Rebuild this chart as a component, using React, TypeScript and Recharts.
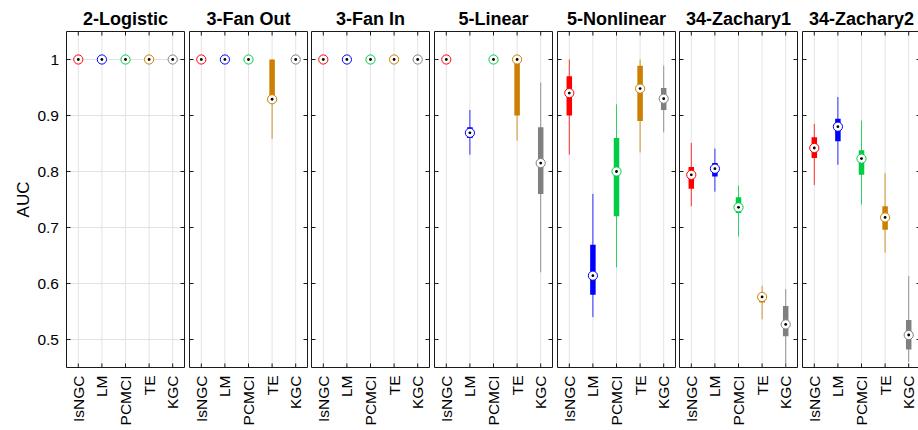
import {
  ComposedChart,
  Scatter,
  XAxis,
  YAxis,
  CartesianGrid,
  ReferenceArea,
  ReferenceLine,
} from "recharts";

const categories = ["IsNGC", "LM", "PCMCI", "TE", "KGC"];
const panelTitles = [
  "2-Logistic",
  "3-Fan Out",
  "3-Fan In",
  "5-Linear",
  "5-Nonlinear",
  "34-Zachary1",
  "34-Zachary2",
];
const yTicks = [0.5, 0.6, 0.7, 0.8, 0.9, 1];

// one row per panel, one value per method (IsNGC, LM, PCMCI, TE, KGC)
const medians = [
  [1, 1, 1, 1, 1],
  [1, 1, 1, 0.929, 1],
  [1, 1, 1, 1, 1],
  [1, 0.869, 1, 1, 0.815],
  [0.94, 0.614, 0.8, 0.948, 0.93],
  [0.794, 0.805, 0.736, 0.576, 0.527],
  [0.842, 0.88, 0.823, 0.718, 0.508],
];
const q1 = [
  [1, 1, 1, 1, 1],
  [1, 1, 1, 0.929, 1],
  [1, 1, 1, 1, 1],
  [1, 0.86, 1, 0.9, 0.76],
  [0.9, 0.58, 0.72, 0.89, 0.91],
  [0.769, 0.791, 0.726, 0.566, 0.506],
  [0.824, 0.854, 0.794, 0.696, 0.482],
];
const q3 = [
  [1, 1, 1, 1, 1],
  [1, 1, 1, 1, 1],
  [1, 1, 1, 1, 1],
  [1, 0.879, 1, 1, 0.879],
  [0.97, 0.669, 0.86, 0.989, 0.949],
  [0.808, 0.815, 0.754, 0.583, 0.56],
  [0.861, 0.894, 0.838, 0.738, 0.535],
];
const whiskerLow = [
  [1, 1, 1, 1, 1],
  [1, 1, 1, 0.858, 1],
  [1, 1, 1, 1, 1],
  [1, 0.83, 1, 0.855, 0.62],
  [0.83, 0.54, 0.629, 0.834, 0.87],
  [0.738, 0.764, 0.684, 0.536, 0.44],
  [0.776, 0.812, 0.741, 0.655, 0.46],
];
const whiskerHigh = [
  [1, 1, 1, 1, 1],
  [1, 1, 1, 1, 1],
  [1, 1, 1, 1, 1],
  [1, 0.91, 1, 1, 0.959],
  [1, 0.76, 0.92, 1, 0.989],
  [0.851, 0.841, 0.775, 0.596, 0.59],
  [0.885, 0.933, 0.891, 0.797, 0.613],
];

const COLORS = ["#ff0000", "#0000ff", "#00cc44", "#cc7f00", "#808080"];
const FONT = '"Liberation Sans", Arial, Helvetica, sans-serif';
const AXIS = "#1a1a1a";
const PLOT_W = 118;
const FIRST_LEFT = 66;
const panelOffsets = [0, 123, 245, 368, 491, 613, 736];
const X_DOMAIN: [number, number] = [0.5, 5.5];
const Y_DOMAIN: [number, number] = [0.45, 1.05];
// inward tick length (about 4px) in data units
const TICK_DX = 0.17;
const TICK_DY = 0.0072;

const xTicks = categories.map((_, i) => i + 1);
const fmtY = (v: number) => (v === 1 ? "1" : v.toFixed(1));
const Empty = () => <g />;

function CatTick({ x, y, payload }: any) {
  return (
    <text
      x={x}
      y={y}
      transform={`rotate(-90 ${x} ${y})`}
      textAnchor="end"
      dy="0.36em"
      fontSize={15.5}
      fontFamily={FONT}
      fill="#000"
    >
      {categories[payload.value - 1]}
    </text>
  );
}

function YTick({ x, y, payload }: any) {
  return (
    <text x={x} y={y} textAnchor="end" dy="0.36em" fontSize={15.5} fontFamily={FONT} fill="#000">
      {fmtY(payload.value)}
    </text>
  );
}

function MedianMark({ cx, cy, payload }: any) {
  return (
    <g>
      <circle cx={cx} cy={cy} r={4.6} fill="#fff" stroke={payload.color} strokeWidth={1} />
      <circle cx={cx} cy={cy} r={1.4} fill="#000" />
    </g>
  );
}

function frameTicks() {
  const out: any[] = [];
  yTicks.forEach((v) => {
    out.push(
      <ReferenceLine
        key={"yl" + v}
        segment={[{ x: X_DOMAIN[0], y: v }, { x: X_DOMAIN[0] + TICK_DX, y: v }]}
        stroke={AXIS}
      />,
      <ReferenceLine
        key={"yr" + v}
        segment={[{ x: X_DOMAIN[1] - TICK_DX, y: v }, { x: X_DOMAIN[1], y: v }]}
        stroke={AXIS}
      />,
    );
  });
  xTicks.forEach((v) => {
    out.push(
      <ReferenceLine
        key={"xb" + v}
        segment={[{ x: v, y: Y_DOMAIN[0] }, { x: v, y: Y_DOMAIN[0] + TICK_DY }]}
        stroke={AXIS}
      />,
      <ReferenceLine
        key={"xt" + v}
        segment={[{ x: v, y: Y_DOMAIN[1] - TICK_DY }, { x: v, y: Y_DOMAIN[1] }]}
        stroke={AXIS}
      />,
    );
  });
  return out;
}

function Panel({ index }: { index: number }) {
  const first = index === 0;
  const leftW = first ? FIRST_LEFT : 0;
  const plotLeft = FIRST_LEFT + panelOffsets[index];
  const medPoints = categories.map((_, i) => ({
    x: i + 1,
    y: medians[index][i],
    color: COLORS[i],
  }));

  const whiskers = categories.map((_, i) =>
    whiskerHigh[index][i] > whiskerLow[index][i] ? (
      <Scatter
        key={"w" + i}
        data={[
          { x: i + 1, y: whiskerLow[index][i] },
          { x: i + 1, y: whiskerHigh[index][i] },
        ]}
        line={{ stroke: COLORS[i], strokeWidth: 1, strokeOpacity: 0.8 }}
        shape={Empty}
        isAnimationActive={false}
      />
    ) : null,
  );
  const boxes = categories.map((_, i) =>
    q3[index][i] > q1[index][i] ? (
      <Scatter
        key={"b" + i}
        data={[
          { x: i + 1, y: q1[index][i] },
          { x: i + 1, y: q3[index][i] },
        ]}
        line={{ stroke: COLORS[i], strokeWidth: 5.5, strokeLinecap: "butt" }}
        shape={Empty}
        isAnimationActive={false}
      />
    ) : null,
  );

  return (
    <div style={{ position: "absolute", left: plotLeft - leftW, top: 0 }}>
      <ComposedChart
        width={leftW + PLOT_W + 3}
        height={430}
        margin={{ top: 31.5, right: 2.5, bottom: 2.5, left: 0.5 }}
      >
        <CartesianGrid stroke="#e3e3e3" />
        <XAxis
          type="number"
          dataKey="x"
          domain={X_DOMAIN}
          ticks={xTicks}
          interval={0}
          height={60}
          tickSize={0}
          tickMargin={8}
          tick={<CatTick />}
          axisLine={false}
          tickLine={false}
        />
        <YAxis
          type="number"
          dataKey="y"
          domain={Y_DOMAIN}
          ticks={yTicks}
          interval={0}
          allowDataOverflow
          width={leftW}
          tickSize={0}
          tickMargin={7.5}
          tick={first ? <YTick /> : false}
          axisLine={false}
          tickLine={false}
          label={
            first
              ? {
                  content: ({ viewBox }: any) => {
                    const x = viewBox.x + 22;
                    const y = viewBox.y + viewBox.height / 2;
                    return (
                      <text
                        x={x}
                        y={y}
                        transform={`rotate(-90 ${x} ${y})`}
                        textAnchor="middle"
                        dy="0.36em"
                        fontSize={17}
                        fontFamily={FONT}
                        fill="#000"
                      >
                        AUC
                      </text>
                    );
                  },
                }
              : undefined
          }
        />
        {whiskers}
        {boxes}
        <Scatter data={medPoints} shape={MedianMark} isAnimationActive={false} />
        <ReferenceArea
          x1={X_DOMAIN[0]}
          x2={X_DOMAIN[1]}
          y1={Y_DOMAIN[0]}
          y2={Y_DOMAIN[1]}
          fill="none"
          fillOpacity={0}
          stroke={AXIS}
          strokeWidth={1}
        />
        {frameTicks()}
      </ComposedChart>
    </div>
  );
}

export default function App() {
  return (
    <div
      style={{
        position: "absolute",
        left: 0,
        top: 0,
        width: 918,
        height: 430,
        overflow: "hidden",
        background: "#fff",
      }}
    >
      <svg width={918} height={40} style={{ position: "absolute", left: 0, top: 0 }}>
        {panelTitles.map((t, i) => (
          <text
            key={t}
            x={FIRST_LEFT + 0.5 + panelOffsets[i] + PLOT_W / 2}
            y={25}
            textAnchor="middle"
            fontSize={18}
            fontWeight="bold"
            fontFamily={FONT}
            fill="#000"
          >
            {t}
          </text>
        ))}
      </svg>
      {panelTitles.map((_, i) => (
        <Panel key={i} index={i} />
      ))}
    </div>
  );
}
